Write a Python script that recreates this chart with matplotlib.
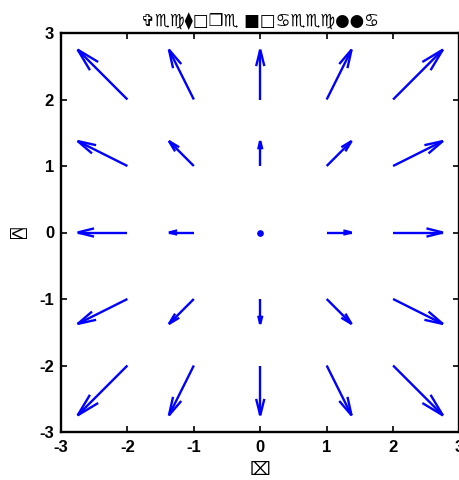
import numpy as np
import matplotlib
matplotlib.use("Agg")
import matplotlib.pyplot as plt

# grid positions and vector components (quiver of the radial field)
X_VALS = [-2, -1, 0, 1, 2]
Y_VALS = [-2, -1, 0, 1, 2]
U = [[-2, -1, 0, 1, 2],
     [-2, -1, 0, 1, 2],
     [-2, -1, 0, 1, 2],
     [-2, -1, 0, 1, 2],
     [-2, -1, 0, 1, 2]]
V = [[-2, -2, -2, -2, -2],
     [-1, -1, -1, -1, -1],
     [0, 0, 0, 0, 0],
     [1, 1, 1, 1, 1],
     [2, 2, 2, 2, 2]]
TICKS = [-3, -2, -1, 0, 1, 2, 3]
TITLE = "\u271e\u264f\u264d\u29eb\u25a1\u2752\u264f \u25a0\u25a1\u264b\u264f\u264f\u264d\u25cf\u25cf\u264b"
XLABEL = "\u2327"
YLABEL = "\u2353"

SCALE = 0.375    # autoscale factor applied to (u, v)
ALPHA, BETA = 0.33, 0.25   # arrow head length / width (matlab-style)
BLUE = (0, 0, 1)
SYM_FONTS = ["DejaVu Sans", "DejaVu Sans Mono", "Noto Sans"]

fig = plt.figure(figsize=(4.59, 4.80), dpi=100)
ax = fig.add_axes([61 / 459, 48 / 480, 398.5 / 459, 399 / 480])

for j, yv in enumerate(Y_VALS):
    for i, xv in enumerate(X_VALS):
        u, v = U[j][i] * SCALE, V[j][i] * SCALE
        if u == 0 and v == 0:
            ax.plot([xv], [yv], "o", color=BLUE, ms=3.8, mec=BLUE)
            continue
        tx, ty = xv + u, yv + v
        ax.plot([xv, tx], [yv, ty], color=BLUE, lw=1.7, solid_capstyle="butt")
        hx = [tx - ALPHA * (u + BETA * v), tx, tx - ALPHA * (u - BETA * v)]
        hy = [ty - ALPHA * (v - BETA * u), ty, ty - ALPHA * (v + BETA * u)]
        ax.plot(hx, hy, color=BLUE, lw=1.7, solid_capstyle="butt", solid_joinstyle="miter")

ax.set_xlim(-3, 3); ax.set_ylim(-3, 3)
ax.set_xticks(TICKS); ax.set_yticks(TICKS)
ax.set_xticklabels([str(t) for t in TICKS], fontsize=12, fontweight="bold", family="Liberation Sans")
ax.set_yticklabels([str(t) for t in TICKS], fontsize=12, fontweight="bold", family="Liberation Sans")
ax.tick_params(direction="in", length=4, width=1.2, top=True, right=True)
ax.tick_params(axis="x", pad=6)
ax.tick_params(axis="y", pad=5)
for sp in ax.spines.values():
    sp.set_linewidth(1.7)

ax.set_title(TITLE, fontsize=12, fontweight="bold", family=SYM_FONTS, pad=5)
ax.set_xlabel(XLABEL, fontsize=13, family=SYM_FONTS, labelpad=4)
ax.set_ylabel(YLABEL, fontsize=13, family=SYM_FONTS, labelpad=7)

fig.savefig("out.png", dpi=100)
